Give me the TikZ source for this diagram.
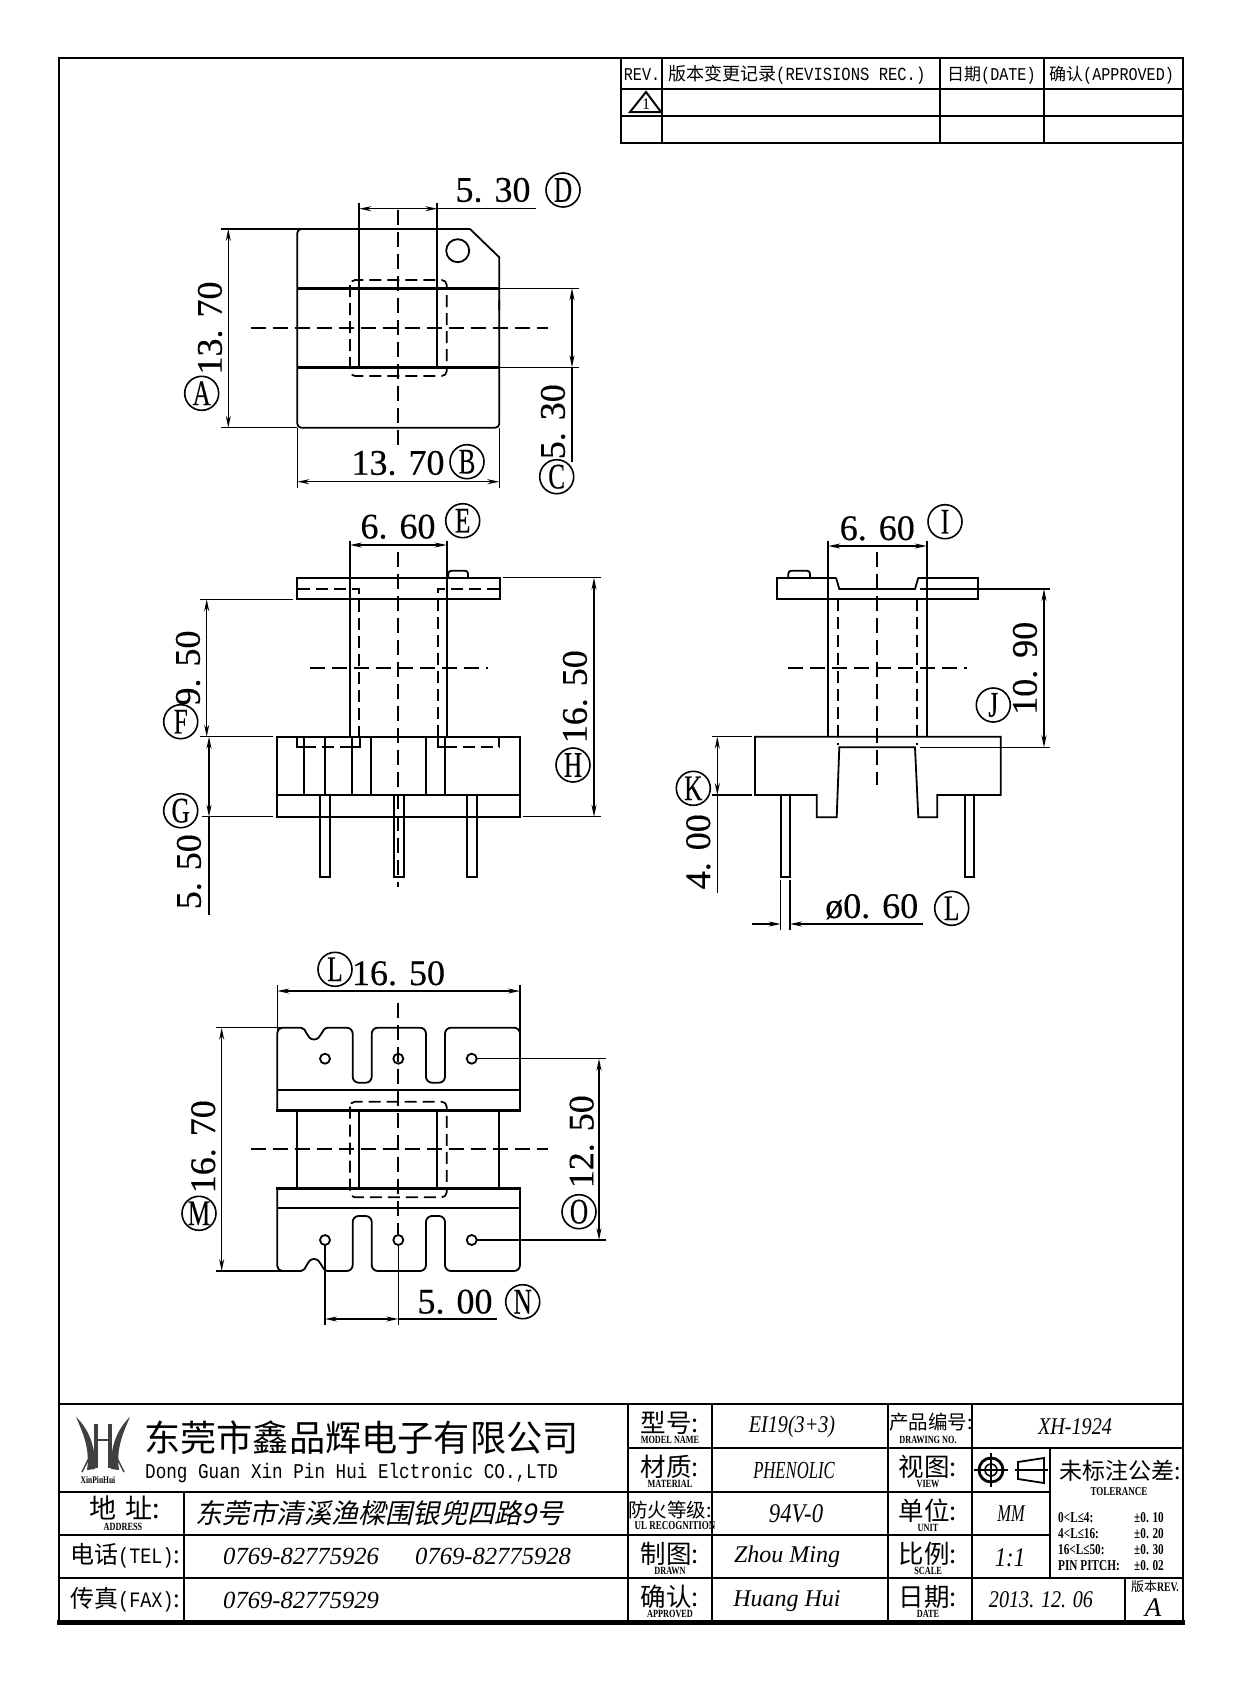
\documentclass[tikz,border=0pt]{standalone}
\usepackage{fontspec}
\usetikzlibrary{arrows.meta}
\setmainfont{Liberation Serif}
\newfontfamily\cjk{Noto Sans CJK SC}
\newfontfamily\cjkit[FakeSlant=0.22]{Noto Sans CJK SC}
\newfontfamily\narrowfam[FakeStretch=0.75]{Liberation Serif}
\newfontfamily\valfam[FakeStretch=0.84]{Liberation Serif}
\newfontfamily\thinfam[FakeStretch=0.68]{Liberation Serif}
\newfontfamily\monofam[FakeStretch=0.84]{Liberation Mono}
\newfontfamily\dimfam[FakeBold=0.35]{Liberation Serif}
\newfontfamily\bubblefam[FakeStretch=0.7,FakeBold=0.3]{Liberation Serif}
\newcommand{\fsz}[1]{\fontsize{#1}{#1}\selectfont}

\begin{document}
\begin{tikzpicture}[x=1pt,y=-1pt,
    outline/.style={line width=1.8pt},
    thickln/.style={line width=3.2pt},
    cellln/.style={line width=1.9pt},
    centerln/.style={line width=1.7pt,dash pattern=on 15pt off 7pt},
    hiddenln/.style={line width=1.7pt,dash pattern=on 12pt off 6pt},
    extln/.style={line width=1.4pt},
    dimln/.style={line width=1.4pt,<->,>={Stealth[length=12pt,width=5pt]}},
    dimtext/.style={font=\dimfam\fsz{36},inner sep=0pt},
    bubble/.style={circle,draw,line width=1.6pt,minimum size=34pt,inner sep=0pt,font=\bubblefam\fsz{36}},
    bigcell/.style={font=\cjk\fsz{25.5},inner sep=0pt},
    smallcell/.style={font=\narrowfam\bfseries\fsz{11},inner sep=0pt},
    valcell/.style={font=\valfam\itshape\fsz{24},inner sep=0pt},
    tolcell/.style={font=\narrowfam\bfseries\fsz{15},inner sep=0pt,anchor=west}]
    \useasboundingbox (0,0) rectangle (1241,1684);

    % Sheet frame
    \draw[line width=2.4pt] (59,1622) -- (59,58) -- (1183,58) -- (1183,1622);
    \draw[line width=5.5pt] (57,1622.5) -- (1185,1622.5);

    % Revision table
    \draw[cellln] (621,58) -- (621,143) -- (1183,143);
    \draw[cellln] (621,89) -- (1183,89);
    \draw[cellln] (621,116) -- (1183,116);
    \foreach \xx in {662,940,1044}
        \draw[cellln] (\xx,58) -- (\xx,143);
    \node[font=\monofam\fsz{18},inner sep=0pt] (revhead) at (642,75) {REV.};
    \node[font=\fsz{19},inner sep=0pt,anchor=west] (revrec) at (668,75) {\cjk\fsz{18}版本变更记录\monofam\fsz{18.5}(REVISIONS REC.)};
    \node[font=\fsz{19},inner sep=0pt,anchor=west] (revdate) at (947,75) {\cjk\fsz{17}日期\monofam\fsz{18}(DATE)};
    \node[font=\fsz{19},inner sep=0pt,anchor=west] (revok) at (1049,75) {\cjk\fsz{17}确认\monofam\fsz{18}(APPROVED)};
    \draw[line width=2pt] (630,112) -- (646,92) -- (661,112) -- cycle;
    \node[font=\fsz{16},inner sep=0pt] (revone) at (646,104) {1};

    % Title block
    \draw[cellln] (59,1404) -- (1183,1404);
    \draw[cellln] (59,1492) -- (1051,1492);
    \draw[cellln] (59,1535) -- (1051,1535);
    \draw[cellln] (59,1578) -- (1183,1578);
    \draw[cellln] (628,1448) -- (1183,1448);
    \draw[cellln] (184,1492) -- (184,1622);
    \foreach \xx in {628,712,888,972}
        \draw[cellln] (\xx,1404) -- (\xx,1622);
    \draw[cellln] (1050,1448) -- (1050,1578);
    \draw[cellln] (1125,1578) -- (1125,1622);

    % Logo
    \fill[black!75] (76,1417) .. controls (88,1428) and (96,1446) .. (95,1469) -- (87,1470) .. controls (90,1450) and (84,1435) .. (76,1417);
    \fill[black!75] (130,1417) .. controls (118,1428) and (110,1446) .. (111,1469) -- (119,1470) .. controls (116,1450) and (122,1435) .. (130,1417);
    \draw[line width=3.5pt,black!75] (96,1424) -- (96,1468) (110,1424) -- (110,1468);
    \draw[line width=2.5pt,black!75] (96,1440) -- (110,1440);
    \draw[line width=1.4pt,black!75] (82,1472) -- (90,1456) (124,1472) -- (116,1456);
    \node[font=\narrowfam\bfseries\fsz{10},inner sep=0pt] (logotext) at (98,1480) {XinPinHui};

    % Company
    \node[font=\cjk\fsz{36.2},inner sep=0pt,anchor=west] (company) at (144,1438) {东莞市鑫品辉电子有限公司};
    \node[font=\monofam\fsz{21},inner sep=0pt,anchor=west] (companyen) at (145,1473) {Dong Guan Xin Pin Hui Elctronic CO.,LTD};
    \node[font=\cjk\fsz{27},inner sep=0pt] (addrlab) at (125,1508) {地\,\,址:};
    \node[smallcell] (addrsmall) at (123,1527) {ADDRESS};
    \node[font=\cjkit\fsz{27.2},inner sep=0pt,anchor=west] (addrval) at (195,1513) {东莞市清溪渔樑围银兜四路9号};
    \node[font=\cjk\fsz{24},inner sep=0pt,anchor=west] (tellab) at (70,1556) {电话\monofam\fsz{22}(TEL)\cjk\fsz{24}:};
    \node[font=\cjk\fsz{24},inner sep=0pt,anchor=west] (faxlab) at (70,1600) {传真\monofam\fsz{22}(FAX)\cjk\fsz{24}:};
    \node[font=\itshape\fsz{24.6},inner sep=0pt,anchor=west] (telone) at (223,1556) {0769-82775926};
    \node[font=\itshape\fsz{24.6},inner sep=0pt,anchor=west] (teltwo) at (415,1556) {0769-82775928};
    \node[font=\itshape\fsz{24.6},inner sep=0pt,anchor=west] (faxone) at (223,1600) {0769-82775929};

    % Title block labels
    \foreach \cjktxt/\entxt/\yy in {型号:/MODEL NAME/1403,材质:/MATERIAL/1447,制图:/DRAWN/1534,确认:/APPROVED/1577}{
        \node[bigcell] (lab\yy) at (670,\yy+20) {\cjktxt};
        \node[smallcell] (sub\yy) at (670,\yy+37) {\entxt};
    }
    \node[bigcell,font=\cjk\fsz{19.5}] (lab1491) at (670,1510) {防火等级:};
    \node[smallcell,font=\narrowfam\bfseries\fsz{12}] (sub1491) at (675,1526) {UL RECOGNITION};
    \foreach \cjktxt/\entxt/\yy in {视图:/VIEW/1447,单位:/UNIT/1491,比例:/SCALE/1534,日期:/DATE/1577}{
        \node[bigcell] (labr\yy) at (928,\yy+20) {\cjktxt};
        \node[smallcell] (subr\yy) at (928,\yy+37) {\entxt};
    }
    \node[bigcell,font=\cjk\fsz{19.5}] (labr1403) at (931,1422) {产品编号:};
    \node[smallcell] (subr1403) at (928,1440) {DRAWING NO.};

    % Title block values
    \node[valcell] (valmodel) at (792,1427) {EI19(3+3)};
    \node[valcell,font=\thinfam\itshape\fsz{24.5}] (valmat) at (794,1470) {PHENOLIC};
    \node[valcell,font=\valfam\itshape\fsz{27}] (valfire) at (796,1514) {94V-0};
    \node[valcell,font=\itshape\fsz{24}] (valdrawn) at (787,1557) {Zhou Ming};
    \node[valcell,font=\itshape\fsz{24}] (valok) at (787,1601) {Huang Hui};
    \node[valcell] (valno) at (1075,1427) {XH-1924};
    \node[valcell,font=\thinfam\itshape\fsz{24}] (valunit) at (1011,1514) {MM};
    \node[valcell,font=\valfam\itshape\fsz{27}] (valscale) at (1010,1558) {1:1};
    \node[valcell] (valdate) at (1041,1600) {2013. 12. 06};
    \node[font=\cjk\fsz{13},inner sep=0pt] (revcjk) at (1155,1587) {版本\narrowfam\bfseries\fsz{13}REV.};
    \node[font=\itshape\fsz{27},inner sep=0pt] (revval) at (1153,1608) {A};

    % Projection symbol
    \draw[line width=2.8pt] (991,1470) circle (12);
    \draw[line width=1.6pt] (991,1470) circle (6);
    \draw[line width=1.8pt] (974,1470) -- (1008,1470) (991,1453) -- (991,1487);
    \draw[line width=1.8pt] (1018,1462) -- (1044,1458) -- (1044,1483) -- (1018,1479) -- cycle;
    \draw[line width=1.8pt] (1015,1470) -- (1048,1470);

    % Tolerance
    \node[font=\cjk\fsz{23},inner sep=0pt] (tolhead) at (1120,1471) {未标注公差:};
    \node[smallcell,font=\narrowfam\bfseries\fsz{12}] (tolsub) at (1119,1492) {TOLERANCE};
    \foreach \tlim/\tval/\yy in {0<L≤4:/±0. 10/1518,4<L≤16:/±0. 20/1534,16<L≤50:/±0. 30/1550,PIN PITCH:/±0. 02/1566}{
        \node[tolcell] (tl\yy) at (1058,\yy) {\tlim};
        \node[tolcell] (tv\yy) at (1134,\yy) {\tval};
    }

    % Top view
    \draw[outline,rounded corners=4pt] (470,229) -- (297.3,229) -- (297.3,427.7) -- (499.3,427.7) -- (499.3,300);
    \draw[outline] (499.3,310) -- (499.3,257.3) -- (470,229);
    \draw[thickln] (297.3,288.3) -- (499.3,288.3);
    \draw[thickln] (297.3,367.3) -- (499.3,367.3);
    \draw[outline] (359.3,202.7) -- (359.3,367.3);
    \draw[outline] (437.3,202.7) -- (437.3,367.3);
    \draw[outline] (457.7,250.7) circle (11.5);
    \draw[hiddenln,rounded corners=5pt] (350,280) rectangle (446.7,376);
    \draw[centerln] (398.3,210) -- (398.3,445);
    \draw[centerln] (250.7,328.3) -- (548,328.3);
    \draw[extln] (221,229) -- (470,229);
    \draw[extln] (221,427.7) -- (297.3,427.7);
    \draw[dimln] (228.3,229) -- (228.3,427.7);
    \node[dimtext,rotate=90] (dima) at (210,328) {13. 70};
    \node[bubble] (bba) at (201.7,393.3) {A};
    \draw[extln] (297.3,427.7) -- (297.3,488);
    \draw[extln] (499.3,427.7) -- (499.3,488);
    \draw[dimln] (297.3,481.7) -- (499.3,481.7);
    \node[dimtext] (dimb) at (398,463) {13. 70};
    \node[bubble] (bbb) at (467,461.7) {B};
    \draw[extln] (499.3,288.3) -- (579,288.3);
    \draw[extln] (499.3,367.3) -- (579,367.3);
    \draw[dimln] (572,288.3) -- (572,367.3);
    \draw[extln] (572,367.3) -- (572,461.7);
    \node[dimtext,rotate=90] (dimc) at (553,421.7) {5. 30};
    \node[bubble] (bbc) at (556.7,476.7) {C};
    \draw[dimln] (359.3,208.7) -- (437.3,208.7);
    \draw[extln] (437.3,208.7) -- (536,208.7);
    \node[dimtext] (dimd) at (493,190) {5. 30};
    \node[bubble] (bbd) at (563,190) {D};

    % Front view
    \draw[outline] (296.7,577.7) rectangle (500,599.3);
    \draw[outline,rounded corners=3pt] (448.3,577.7) -- (448.3,570.7) -- (468,570.7) -- (468,577.7);
    \draw[outline] (350,540.7) -- (350,736.7);
    \draw[outline] (446.7,540.7) -- (446.7,736.7);
    \draw[hiddenln] (298,589) -- (359.3,589) -- (359.3,736);
    \draw[hiddenln] (499.3,589) -- (437.7,589) -- (437.7,736);
    \draw[outline] (277.3,736.7) rectangle (520,816.7);
    \draw[outline] (277.3,795) -- (520,795);
    \foreach \xx in {304,325,352.3,371,426,445}
        \draw[outline] (\xx,736.7) -- (\xx,795);
    \draw[outline] (296.7,736.7) -- (296.7,747.3) -- (304,747.3);
    \draw[outline] (352.3,747.3) -- (360,747.3) -- (360,736.7);
    \draw[outline] (437.7,736.7) -- (437.7,747.3) -- (445,747.3);
    \draw[outline] (499.3,736.7) -- (499.3,747.3);
    \draw[hiddenln] (304,747.3) -- (352.3,747.3);
    \draw[hiddenln] (445,747.3) -- (499.3,747.3);
    \foreach \xx in {320,394,467.3}
        \draw[outline] (\xx,795) rectangle (\xx+10,876.7);
    \draw[centerln] (398.3,551.7) -- (398.3,886.7);
    \draw[centerln] (310,668.3) -- (488.3,668.3);
    \draw[dimln] (350,545) -- (446.7,545);
    \node[dimtext] (dime) at (398,526.7) {6. 60};
    \node[bubble] (bbe) at (462.7,520.7) {E};
    \draw[extln] (200,599.3) -- (293,599.3);
    \draw[extln] (200,736.7) -- (273,736.7);
    \draw[extln] (201.7,816.7) -- (273,816.7);
    \draw[dimln] (206.7,599.3) -- (206.7,736.7);
    \draw[dimln] (209,736.7) -- (209,816.7);
    \draw[extln] (209,816.7) -- (209,915);
    \node[dimtext,rotate=90] (dimf) at (188,668) {9. 50};
    \node[bubble] (bbf) at (180.7,721.7) {F};
    \node[bubble] (bbg) at (180.7,810.7) {G};
    \node[dimtext,rotate=90] (dimg) at (189,871.7) {5. 50};
    \draw[extln] (503.3,577.7) -- (600.7,577.7);
    \draw[extln] (523,816.7) -- (600.7,816.7);
    \draw[dimln] (594,577.7) -- (594,816.7);
    \node[dimtext,rotate=90] (dimh) at (575,696.7) {16. 50};
    \node[bubble] (bbh) at (573,765) {H};

    % Side view
    \draw[outline] (836,577.7) -- (776.7,577.7) -- (776.7,599.3) -- (978.3,599.3) -- (978.3,577.7) -- (918.3,577.7);
    \draw[outline] (836,577.7) -- (839.3,589) -- (915,589) -- (918.3,577.7);
    \draw[outline,rounded corners=3pt] (788.3,577.7) -- (788.3,570.7) -- (810,570.7) -- (810,577.7);
    \draw[outline] (828.3,540.7) -- (828.3,736.7);
    \draw[outline] (926.7,540.7) -- (926.7,736.7);
    \draw[hiddenln] (838.3,599.3) -- (838.3,745);
    \draw[hiddenln] (916.7,599.3) -- (916.7,745);
    \draw[outline] (755,736.7) -- (755,795) -- (816.7,795) -- (816.7,817.3) -- (836.7,817.3) -- (839.3,747.3) -- (915,747.3) -- (918.3,817.3) -- (937.3,817.3) -- (937.3,795) -- (1000.7,795) -- (1000.7,736.7) -- cycle;
    \foreach \xx in {780.7,965}
        \draw[outline] (\xx,795) rectangle (\xx+9.3,876.7);
    \draw[centerln] (877.3,551.7) -- (877.3,785);
    \draw[centerln] (788.3,668.3) -- (966.7,668.3);
    \draw[dimln] (828.3,546) -- (926.7,546);
    \node[dimtext] (dimi) at (877.3,528.3) {6. 60};
    \node[bubble] (bbi) at (945,521.7) {I};
    \draw[extln] (920,589) -- (1050,589);
    \draw[extln] (920,747.3) -- (1050,747.3);
    \draw[dimln] (1044,589) -- (1044,747.3);
    \node[dimtext,rotate=90] (dimj) at (1025,668.3) {10. 90};
    \node[bubble] (bbj) at (993.3,705) {J};
    \draw[extln] (711.7,736.7) -- (751.7,736.7);
    \draw[extln] (711.7,795) -- (751.7,795);
    \draw[dimln] (717.3,736.7) -- (717.3,795);
    \draw[extln] (717.3,795) -- (717.3,893);
    \node[dimtext,rotate=90] (dimk) at (698.3,851.7) {4. 00};
    \node[bubble] (bbk) at (693.3,788.3) {K};
    \draw[extln] (780.7,880) -- (780.7,930);
    \draw[extln] (790,880) -- (790,930);
    \draw[dimln,<-] (780.7,924) -- (751.7,924);
    \draw[dimln,<-] (790,924) -- (923,924);
    \node[dimtext] (diml) at (871.7,906.7) {ø0. 60};
    \node[bubble] (bbl) at (951.7,908.3) {L};

    % Bottom view
    \draw[outline] (277.3,1110.7) [rounded corners=5pt] -- (277.3,1027.7) -- (296,1027.7) [sharp corners] -- (301,1027.7) .. controls (307,1027.7) and (306,1039.5) .. (314,1039.5) .. controls (322,1039.5) and (321,1027.7) .. (328,1027.7) [rounded corners=6pt] -- (352.7,1027.7) -- (352.7,1082.7) -- (371.7,1082.7) -- (371.7,1027.7) -- (426,1027.7) -- (426,1082.7) -- (445,1082.7) -- (445,1027.7) -- (520,1027.7) -- (520,1110.7);
    \draw[outline] (277.3,1188.3) [rounded corners=5pt] -- (277.3,1271) -- (296,1271) [sharp corners] -- (301,1271) .. controls (307,1271) and (306,1259) .. (314,1259) .. controls (322,1259) and (321,1271) .. (328,1271) [rounded corners=6pt] -- (352.7,1271) -- (352.7,1216) -- (371.7,1216) -- (371.7,1271) -- (426,1271) -- (426,1216) -- (445,1216) -- (445,1271) -- (520,1271) -- (520,1188.3);
    \draw[outline] (277.3,1090) -- (520,1090);
    \draw[outline] (277.3,1208.3) -- (520,1208.3);
    \draw[thickln] (276,1110.7) -- (521,1110.7);
    \draw[thickln] (276,1188.3) -- (521,1188.3);
    \foreach \xx in {297.3,359.3,437.3,499.3}
        \draw[outline] (\xx,1110.7) -- (\xx,1188.3);
    \foreach \xx in {325,398.3,471.7}{
        \draw[outline] (\xx,1058.7) circle (5);
        \draw[outline] (\xx,1240) circle (5);
    }
    \draw[hiddenln,rounded corners=5pt] (350,1101.7) rectangle (446.7,1197.3);
    \draw[centerln] (398.3,1002.7) -- (398.3,1234);
    \draw[centerln] (250.7,1149) -- (548,1149);
    \draw[extln] (277.3,985) -- (277.3,1040);
    \draw[extln] (520,985) -- (520,1040);
    \draw[dimln] (277.3,991) -- (520,991);
    \node[bubble] (bbl2) at (335,969.3) {L};
    \node[dimtext] (dimm) at (398.5,973.3) {16. 50};
    \draw[extln] (216,1027.7) -- (285,1027.7);
    \draw[extln] (216,1271) -- (285,1271);
    \draw[dimln] (221.7,1027.7) -- (221.7,1271);
    \node[dimtext,rotate=90] (dimn) at (203.3,1146.7) {16. 70};
    \node[bubble] (bbm) at (199,1213.3) {M};
    \draw[extln] (476.7,1058.7) -- (605.7,1058.7);
    \draw[extln] (476.7,1240) -- (605.7,1240);
    \draw[dimln] (599,1058.7) -- (599,1240);
    \node[dimtext,rotate=90] (dimo) at (581.7,1141.7) {12. 50};
    \node[bubble] (bbo) at (579,1211.7) {O};
    \draw[extln] (325,1245) -- (325,1325);
    \draw[extln] (398.3,1245) -- (398.3,1325);
    \draw[dimln] (325,1319) -- (398.3,1319);
    \draw[extln] (398.3,1319) -- (496.7,1319);
    \node[dimtext] (dimp) at (455,1301.7) {5. 00};
    \node[bubble] (bbn) at (522.7,1301.7) {N};
\end{tikzpicture}
\end{document}
